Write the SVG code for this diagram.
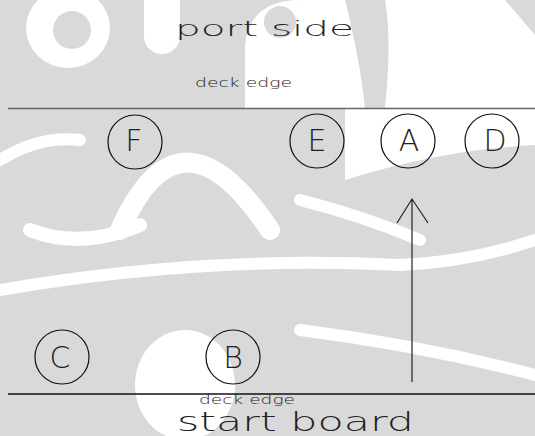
<svg xmlns="http://www.w3.org/2000/svg" width="535" height="436" viewBox="0 0 535 436">
<style>
.bgw{fill:#ffffff;stroke:none}
.bgs{fill:none;stroke:#ffffff;stroke-linecap:round}
.t{font-family:"DejaVu Sans","Liberation Sans",sans-serif;font-weight:200;fill:#222}
.node circle{fill:none;stroke:#111;stroke-width:1.2}
.node text{font-family:"DejaVu Sans","Liberation Sans",sans-serif;font-weight:200;font-size:30px;fill:#222;text-anchor:middle}
</style>
<g id="background">
<rect x="0" y="0" width="535" height="436" fill="#d9d9d9"/>
<ellipse class="bgw" cx="68" cy="28" rx="42" ry="40"/>
<circle cx="72" cy="30" r="19" fill="#d9d9d9"/>
<path class="bgs" stroke-width="36" d="M162 -10 L162 36"/>
<path class="bgw" d="M245 108 L245 45 Q250 0 300 0 L345 0 Q360 60 365 108 Z"/>
<circle cx="280" cy="22" r="16" fill="#d9d9d9"/>
<path class="bgw" d="M385 108 Q392 40 385 0 L505 0 L535 35 L535 108 Z"/>
<path class="bgs" stroke-width="20" d="M120 230 Q180 95 270 230"/>
<path class="bgw" d="M345 108 L535 108 L535 145 Q440 150 345 180 Z"/>
<path class="bgs" stroke-width="12" d="M0 290 Q200 255 400 265 Q470 262 535 240"/>
<path class="bgs" stroke-width="12" d="M300 330 Q420 345 535 375"/>
<path class="bgs" stroke-width="14" d="M30 230 Q80 250 140 225"/>
<ellipse class="bgw" cx="185" cy="385" rx="50" ry="55"/>
<path class="bgs" stroke-width="12" d="M0 160 Q40 135 80 140"/>
<path class="bgs" stroke-width="12" d="M300 200 Q360 215 420 240"/>
</g>
<g id="connectors">
<line x1="8" y1="108.5" x2="535" y2="108.5" stroke="#666" stroke-width="1.5"/>
<line x1="8" y1="394" x2="535" y2="394" stroke="#111" stroke-width="1.3"/>
<path d="M412 382 L412 199 M397 223 L412 199 L428 223" fill="none" stroke="#222" stroke-width="1.2"/>
</g>
<g id="labels">
<text class="t" x="175" y="36" font-size="22" textLength="179" lengthAdjust="spacingAndGlyphs">port side</text>
<text class="t" x="195" y="87" font-size="12" textLength="97" lengthAdjust="spacingAndGlyphs">deck edge</text>
<text class="t" x="199" y="404" font-size="12" textLength="96" lengthAdjust="spacingAndGlyphs">deck edge</text>
<text class="t" x="177" y="431" font-size="27" textLength="237" lengthAdjust="spacingAndGlyphs">start board</text>
</g>
<g id="node-F" class="node"><circle cx="135" cy="142" r="27"/><text x="134" y="151">F</text></g>
<g id="node-E" class="node"><circle cx="317" cy="141" r="27"/><text x="317" y="151">E</text></g>
<g id="node-A" class="node"><circle cx="408" cy="141" r="27"/><text x="409" y="151">A</text></g>
<g id="node-D" class="node"><circle cx="492" cy="141" r="27"/><text x="495" y="151">D</text></g>
<g id="node-C" class="node"><circle cx="62" cy="357" r="27"/><text x="60" y="368">C</text></g>
<g id="node-B" class="node"><circle cx="233" cy="357" r="27"/><text x="233" y="368">B</text></g>
</svg>
